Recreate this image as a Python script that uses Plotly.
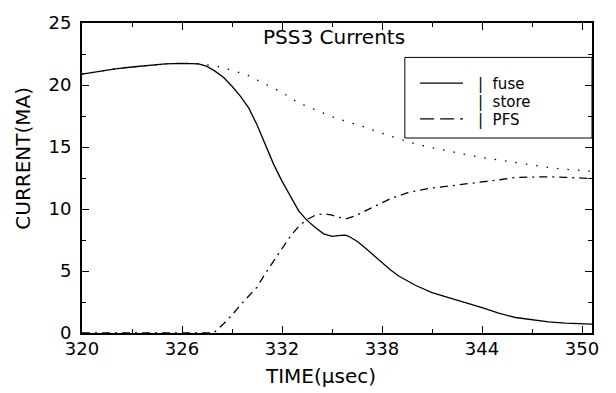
import plotly.graph_objects as go

# ---- data ----
fuse_t = [320, 321, 322, 323, 324, 325, 326, 326.5, 327, 327.5, 328, 328.5, 329, 329.5,
          330, 330.5, 331, 331.5, 332, 332.5, 333, 333.5, 334, 334.5, 335, 335.5, 335.8,
          336, 336.5, 337, 337.5, 338, 338.5, 339, 339.5, 340, 341, 342, 343, 343.5, 344,
          344.5, 345, 346, 347, 348, 349, 350, 350.6]
fuse_i = [20.87, 21.1, 21.3, 21.45, 21.6, 21.7, 21.75, 21.75, 21.7, 21.5, 21.1, 20.6, 19.9, 19.1,
          18.15, 16.8, 15.2, 13.6, 12.25, 11.0, 9.85, 9.08, 8.5, 8.0, 7.8, 7.88, 7.9,
          7.8, 7.4, 6.85, 6.25, 5.65, 5.1, 4.6, 4.2, 3.85, 3.25, 2.85, 2.5, 2.3, 2.05,
          1.83, 1.6, 1.25, 1.05, 0.9, 0.8, 0.73, 0.71]

store_t = [320, 321, 322, 323, 324, 325, 326, 327, 328, 329, 330, 331, 332, 333, 334, 335,
           336, 337, 338, 339, 340, 341, 342, 343, 344, 345, 346, 347, 348, 349, 350, 350.6]
store_i = [20.87, 21.1, 21.3, 21.45, 21.6, 21.7, 21.75, 21.7, 21.55, 21.2, 20.75, 20.1, 19.4,
           18.55, 18.0, 17.45, 17.0, 16.6, 16.1, 15.7, 15.25, 14.95, 14.65, 14.4, 14.15, 13.95,
           13.7, 13.5, 13.35, 13.2, 13.1, 13.05]

pfs_t = [320, 327.9, 328.5, 329, 329.5, 330, 330.5, 331, 331.5, 332, 332.5, 333, 333.5, 334,
         334.5, 335, 335.5, 335.9, 336.4, 337, 337.5, 338, 338.5, 339, 339.5, 340, 341, 342,
         343, 344, 345, 346, 347, 348, 349, 350, 350.6]
pfs_i = [0, 0, 0.75, 1.45, 2.25, 2.95, 3.7, 4.8, 5.8, 6.9, 7.8, 8.6, 9.15, 9.5,
         9.62, 9.5, 9.3, 9.22, 9.45, 9.85, 10.2, 10.5, 10.83, 11.08, 11.3, 11.45, 11.7, 11.85,
         12.0, 12.15, 12.35, 12.55, 12.6, 12.6, 12.55, 12.48, 12.46]

x_ticks = [320, 326, 332, 338, 344, 350]
y_ticks = [0, 5, 10, 15, 20, 25]
series_names = ["fuse", "store", "PFS"]

FONT = "DejaVu Sans"
STORE_DASH = "1.5px,9px"
PFS_DASH = "8px,5px,2px,5px"

fig = go.Figure()
fig.add_trace(go.Scatter(x=fuse_t, y=fuse_i, mode="lines", name=series_names[0],
                         line=dict(color="black", width=1.3)))
fig.add_trace(go.Scatter(x=store_t, y=store_i, mode="lines", name=series_names[1],
                         line=dict(color="black", width=1.3, dash=STORE_DASH)))
fig.add_trace(go.Scatter(x=pfs_t, y=pfs_i, mode="lines", name=series_names[2],
                         line=dict(color="black", width=1.3, dash=PFS_DASH)))

# legend drawn as a boxed key in paper coordinates (like the original plotter key)
row_y = [0.803, 0.746, 0.688]
legend_shapes = [
    dict(type="rect", xref="paper", yref="paper", x0=0.633, x1=1.0, y0=0.629, y1=0.889,
         line=dict(color="black", width=1), fillcolor="rgba(0,0,0,0)"),
    dict(type="line", xref="paper", yref="paper", x0=0.663, x1=0.747,
         y0=row_y[0] + 0.003, y1=row_y[0] + 0.003, line=dict(color="black", width=1.3)),
    dict(type="line", xref="paper", yref="paper", x0=0.663, x1=0.747,
         y0=row_y[2] + 0.003, y1=row_y[2] + 0.003,
         line=dict(color="black", width=1.3, dash="14px,6px")),
]
legend_texts = [
    dict(text="|\u00a0\u00a0" + name, xref="paper", yref="paper", x=0.772, y=yy,
         xanchor="left", yanchor="middle", showarrow=False,
         font=dict(family=FONT, size=15, color="black"))
    for name, yy in zip(series_names, row_y)
]

fig.update_layout(
    width=616, height=393,
    margin=dict(l=82, r=24, t=18, b=60),
    paper_bgcolor="white", plot_bgcolor="white",
    font=dict(family=FONT, color="black", size=19),
    showlegend=False,
    xaxis=dict(range=[320, 350.6], tickmode="array", tickvals=x_ticks,
               ticktext=[str(v) for v in x_ticks],
               ticks="inside", ticklen=7, tickwidth=1, tickcolor="black",
               minor=dict(dtick=3, tick0=320, ticks="inside", ticklen=4, tickcolor="black"),
               showline=True, linewidth=2, linecolor="black", mirror="allticks",
               showgrid=False, zeroline=False, ticklabelstandoff=-2,
               tickfont=dict(family=FONT, size=18, color="black")),
    yaxis=dict(range=[0, 25], tickmode="array", tickvals=y_ticks,
               ticktext=[str(v) for v in y_ticks],
               ticks="inside", ticklen=7, tickwidth=1, tickcolor="black",
               minor=dict(dtick=2.5, tick0=0, ticks="inside", ticklen=4, tickcolor="black"),
               showline=True, linewidth=2, linecolor="black", mirror="allticks",
               showgrid=False, zeroline=False, ticklabelstandoff=5,
               tickfont=dict(family=FONT, size=18, color="black")),
    shapes=legend_shapes,
    annotations=[
        dict(text="PSS3 Currents", xref="paper", yref="paper", x=0.494, y=0.955,
             xanchor="center", yanchor="middle", showarrow=False,
             font=dict(family=FONT, size=20, color="black")),
        dict(text="TIME(μsec)", xref="paper", yref="paper", x=0.467, y=-0.14,
             xanchor="center", yanchor="middle", showarrow=False,
             font=dict(family=FONT, size=20, color="black")),
        dict(text="CURRENT(MA)", xref="paper", yref="paper", x=-0.116, y=0.565,
             xanchor="center", yanchor="middle", showarrow=False, textangle=-90,
             font=dict(family=FONT, size=20, color="black")),
    ] + legend_texts,
)

fig.write_html("out.html")
